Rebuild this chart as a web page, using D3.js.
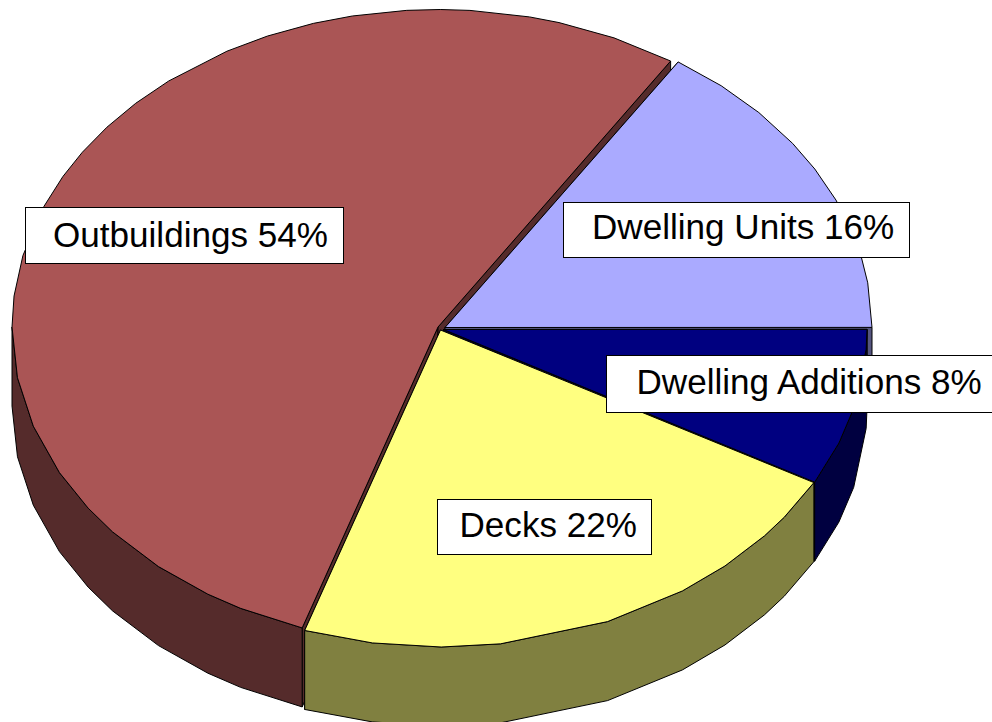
<!DOCTYPE html>
<html><head><meta charset="utf-8">
<script src="https://cdn.jsdelivr.net/npm/d3@7"></script>
<style>html,body{margin:0;padding:0;background:#fff;overflow:hidden}svg{display:block}</style>
</head><body><svg id="c" width="992" height="722"></svg>
<script>
const categories = ["Dwelling Units", "Dwelling Additions", "Decks", "Outbuildings"];
const shares = [15.8, 8, 22.17, 54.03];
const topColors = ["#AAAAFF", "#000080", "#FFFF80", "#AA5555"];
const sideColors = ["#555580", "#000040", "#808040", "#552B2B"];
const drawOrder = [3, 0, 1, 2];

// angles (degrees clockwise from north) where the reference's faceted rim bends
const facetAngles = [40.3, 47.3, 54.5, 60, 66.3, 72, 77.1, 81.9, 93.6, 104.4, 111, 126.2, 130.5, 138.1,
  145.4, 156.9, 171.9, 179.9, 189.2, 207.6, 212.7, 221, 229.8, 235.2, 242.7, 251.8, 260.8, 270,
  275.6, 283, 292.3, 298.3, 303.4, 309, 314.8, 320.8, 330.3, 336.4, 343, 348.4, 355.8, 360.3,
  364.3, 372.4, 376.5, 384.4];

// geometry of each exploded slice: centre and radii in page pixels
const slicePlacement = [
  {cx: 445, cy: 327.5, rx: 427, ry: 317},
  {cx: 443.5, cy: 329.5, rx: 423.5, ry: 317},
  {cx: 440.5, cy: 330, rx: 426, ry: 317},
  {cx: 438, cy: 327, rx: 426, ry: 317.5}
];
const labelBoxes = [
  {x: 563.5, y: 202.5, w: 346, h: 55, tx: 592, ty: 239},
  {x: 606.5, y: 355.5, w: 400, h: 57, tx: 636.5, ty: 394},
  {x: 437.5, y: 499.5, w: 214, h: 55, tx: 459.5, ty: 537},
  {x: 25.5, y: 207.5, w: 318, h: 56, tx: 53, ty: 247}
];
const depth = 79;
const rad = Math.PI / 180;

const svg = d3.select("#c");
const pie = d3.pie().sort(null)
  .startAngle(33.1 * rad)
  .endAngle((33.1 + 360) * rad);
const arcs = pie(shares);
const line = d3.line();

arcs.sort((a, b) => drawOrder.indexOf(a.index) - drawOrder.indexOf(b.index));

arcs.forEach(d => {
  const p = slicePlacement[d.index];
  const xs = d3.scaleLinear().domain([-1, 1]).range([p.cx - p.rx, p.cx + p.rx]);
  const ys = d3.scaleLinear().domain([-1, 1]).range([p.cy - p.ry, p.cy + p.ry]);
  const angles = [d.startAngle,
    ...facetAngles.map(a => a * rad).filter(a => a > d.startAngle && a < d.endAngle),
    d.endAngle];
  const pt = a => [xs(Math.sin(a)), ys(-Math.cos(a))];
  const rim = angles.map(pt);
  const apex = [xs(0), ys(0)];
  const down = q => [q[0], q[1] + depth];
  const g = svg.append("g");
  const side = pts => g.append("path").attr("d", line(pts) + "Z")
    .attr("fill", sideColors[d.index]).attr("stroke", "#000").attr("stroke-width", 1);
  const last = rim[rim.length - 1];
  // cut faces
  side([apex, rim[0], down(rim[0]), down(apex)]);
  side([apex, last, down(last), down(apex)]);
  // outer wall: only the part facing the viewer
  const front = angles.filter(a => Math.cos(a) <= 0.001).map(pt);
  if (front.length > 1) side(front.concat(front.slice().reverse().map(down)));
  // top face
  g.append("path").attr("d", line([apex, ...rim]) + "Z")
    .attr("fill", topColors[d.index]).attr("stroke", "#000").attr("stroke-width", 1);
});

const labels = svg.append("g");
categories.forEach((c, i) => {
  const b = labelBoxes[i];
  labels.append("rect").attr("x", b.x).attr("y", b.y).attr("width", b.w).attr("height", b.h)
    .attr("fill", "#fff").attr("stroke", "#000").attr("stroke-width", 1);
  labels.append("text").attr("x", b.tx).attr("y", b.ty)
    .attr("font-family", "'Liberation Sans', Arial, sans-serif").attr("font-size", 35.1)
    .attr("fill", "#000").text(`${c} ${Math.round(shares[i])}%`);
});
</script></body></html>
